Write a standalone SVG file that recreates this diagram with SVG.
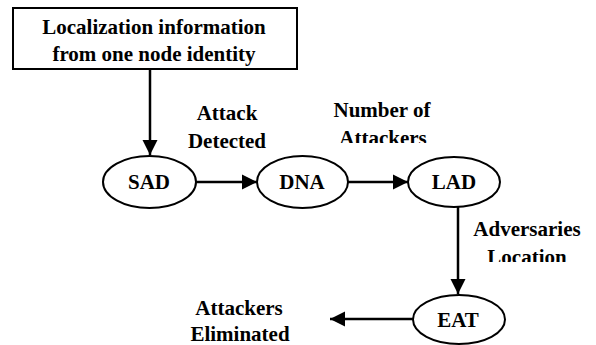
<svg xmlns="http://www.w3.org/2000/svg" width="596" height="345" viewBox="0 0 596 345" font-family="Liberation Serif, DejaVu Serif, serif">
<style>
text{font-weight:700;font-size:21px;fill:#000;text-anchor:middle}
.n{fill:#fff;stroke:#000;stroke-width:2}
.c{stroke:#000;stroke-width:2.5;fill:none}
</style>
<defs>
<marker id="ah" markerUnits="userSpaceOnUse" markerWidth="16" markerHeight="16" viewBox="0 0 16 16" refX="15" refY="8" orient="auto">
<path d="M0,0.5 L15,8 L0,15.5 Z" fill="#000"/>
</marker>
<clipPath id="clipA"><rect x="300" y="120" width="160" height="23"/></clipPath>
<clipPath id="clipL"><rect x="460" y="240" width="136" height="22"/></clipPath>
</defs>
<g id="connectors">
<line class="c" x1="150" y1="69" x2="150" y2="155" marker-end="url(#ah)"/>
<line class="c" x1="196" y1="182" x2="257" y2="182" marker-end="url(#ah)"/>
<line class="c" x1="348" y1="182" x2="408" y2="182" marker-end="url(#ah)"/>
<line class="c" x1="458" y1="207" x2="458" y2="294" marker-end="url(#ah)"/>
<line class="c" x1="413" y1="319" x2="330" y2="319" marker-end="url(#ah)"/>
</g>
<g id="start">
<rect class="n" x="13" y="8" width="284" height="61"/>
<text x="154" y="34" font-family="Liberation Serif, serif">Localization information</text>
<text x="154" y="61" font-family="Liberation Serif, serif">from one node identity</text>
</g>
<g id="SAD">
<ellipse class="n" cx="149.5" cy="182" rx="46.5" ry="26"/>
<text x="149" y="189" font-family="Liberation Serif, serif">SAD</text>
</g>
<g id="DNA">
<ellipse class="n" cx="302.5" cy="182" rx="45.5" ry="26"/>
<text x="302" y="189" font-family="Liberation Serif, serif">DNA</text>
</g>
<g id="LAD">
<ellipse class="n" cx="454" cy="182" rx="46" ry="25"/>
<text x="454" y="189" font-family="Liberation Serif, serif">LAD</text>
</g>
<g id="EAT">
<ellipse class="n" cx="459" cy="319.5" rx="46" ry="24.5"/>
<text x="458" y="327" font-family="Liberation Serif, serif">EAT</text>
</g>
<g id="labels" font-family="Liberation Serif, serif">
<text x="227" y="120">Attack</text>
<text x="227" y="148">Detected</text>
<text x="382" y="117">Number of</text>
<text x="383" y="145" clip-path="url(#clipA)">Attackers</text>
<text x="527" y="236">Adversaries</text>
<text x="527" y="264" clip-path="url(#clipL)">Location</text>
<text x="239" y="315">Attackers</text>
<text x="240" y="341">Eliminated</text>
</g>
</svg>
